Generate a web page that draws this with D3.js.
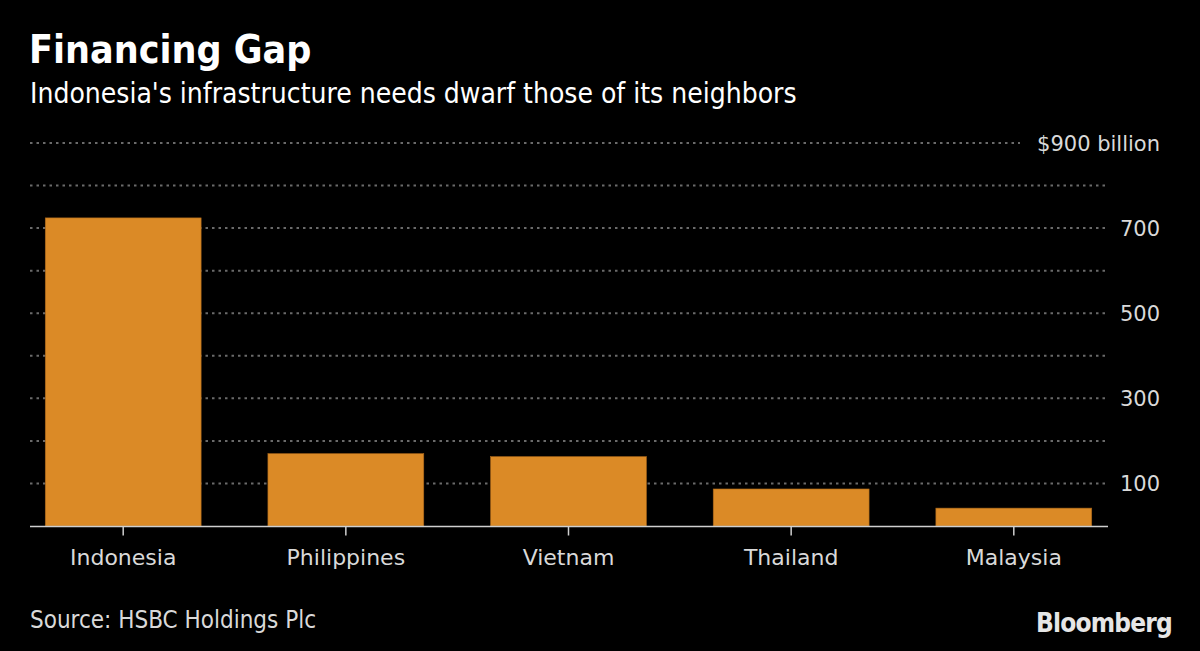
<!DOCTYPE html>
<meta charset="utf-8">
<script src="https://d3js.org/d3.v7.min.js"></script>
<style>
  body { margin: 0; background: #000; }
</style>
<div id="chart"></div>
<script>

    // data
    const countries = ["Indonesia", "Philippines", "Vietnam", "Thailand", "Malaysia"];
    const needs = [724, 170, 163, 87, 42];
    const gridTicks = [100, 200, 300, 400, 500, 600, 700, 800, 900];
    const labelTicks = [100, 300, 500, 700, 900];

    var W = 1200, H = 651;

    var svg = d3.select("#chart")
        .append("svg")
        .attr("width", W)
        .attr("height", H)
        .style("background", "#000");

    var condensed = "'DejaVu Sans Condensed', 'Liberation Sans Narrow', sans-serif";

    // title + subtitle
    svg.append("text")
        .attr("x", 29).attr("y", 63)
        .attr("font-family", condensed)
        .attr("font-weight", "bold")
        .attr("font-size", "39px")
        .attr("fill", "#fff")
        .text("Financing Gap");

    svg.append("text")
        .attr("x", 30).attr("y", 103)
        .attr("font-family", condensed)
        .attr("font-size", "28px")
        .attr("fill", "#fff")
        .text("Indonesia's infrastructure needs dwarf those of its neighbors");

    var x = d3.scaleBand()
        .domain(countries)
        .range([23, 1114])
        .paddingInner(0.3)
        .paddingOuter(0.1);

    var y = d3.scaleLinear()
        .domain([0, 900])
        .range([526, 143]);

    // dotted gridlines
    svg.append("g")
        .selectAll("line")
        .data(gridTicks)
        .enter()
        .append("line")
        .attr("x1", 30)
        .attr("x2", function (d) { return d == 900 ? 1020 : 1108; })
        .attr("y1", function (d) { return y(d); })
        .attr("y2", function (d) { return y(d); })
        .attr("stroke", "#6a6a6a")
        .attr("stroke-width", 2)
        .attr("stroke-dasharray", "2.5,4");

    // right side labels
    svg.append("g")
        .selectAll("text")
        .data(labelTicks)
        .enter()
        .append("text")
        .attr("x", 1160)
        .attr("y", function (d) { return y(d); })
        .attr("dy", "0.36em")
        .attr("text-anchor", "end")
        .attr("font-family", "'DejaVu Sans', sans-serif")
        .attr("font-size", "21px")
        .attr("fill", "#d9d9d9")
        .text(function (d) { return d == 900 ? "$900 billion" : d; });

    // bars
    svg.append("g")
        .selectAll("rect")
        .data(countries)
        .enter()
        .append("rect")
        .attr("x", function (d) { return x(d); })
        .attr("width", x.bandwidth())
        .attr("y", function (d, i) { return y(needs[i]); })
        .attr("height", function (d, i) { return y(0) - y(needs[i]); })
        .attr("fill", "#db8a26")
        .attr("stroke", "#a8661a")
        .attr("stroke-width", 0.6);

    // baseline + ticks
    svg.append("line")
        .attr("x1", 30).attr("x2", 1108)
        .attr("y1", y(0) + 0.5).attr("y2", y(0) + 0.5)
        .attr("stroke", "#cfcfcf")
        .attr("stroke-width", 1.5);

    var xAxis = svg.append("g")
        .attr("transform", "translate(0," + (y(0) + 0.5) + ")")
        .call(d3.axisBottom(x).tickSize(9).tickPadding(14));
    xAxis.select(".domain").remove();
    xAxis.selectAll(".tick line")
        .attr("stroke", "#cfcfcf")
        .attr("stroke-width", 1.5);
    xAxis.selectAll(".tick text")
        .attr("fill", "#d9d9d9")
        .attr("font-family", "'DejaVu Sans', sans-serif")
        .attr("font-size", "22px");

    // footer
    svg.append("text")
        .attr("x", 30).attr("y", 628)
        .attr("font-family", condensed)
        .attr("font-size", "24px")
        .attr("fill", "#d9d9d9")
        .text("Source: HSBC Holdings Plc");

    svg.append("text")
        .attr("x", 1172).attr("y", 632)
        .attr("text-anchor", "end")
        .attr("font-family", "'Liberation Sans Narrow', 'DejaVu Sans Condensed', sans-serif")
        .attr("font-weight", "bold")
        .attr("font-size", "26px")
        .attr("letter-spacing", "-0.8px")
        .attr("fill", "#e6e6e6")
        .text("Bloomberg");

</script>
